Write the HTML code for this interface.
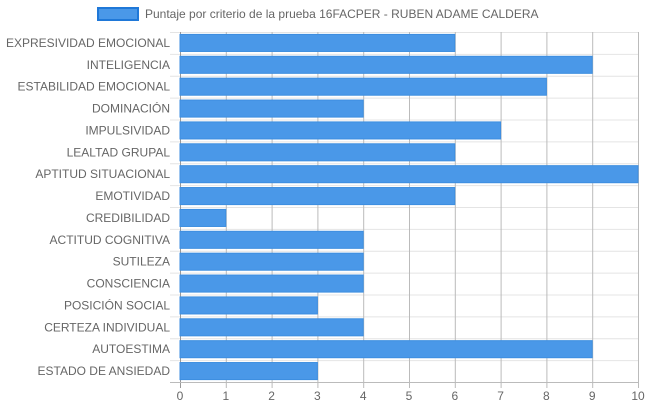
<!DOCTYPE html>
<html><head><meta charset="utf-8"><style>
body{margin:0;background:#fff;}
svg{display:block;font-family:"Liberation Sans",Arial,sans-serif;}
</style></head><body>
<svg id="chart" width="648" height="410"></svg>
<script>
const categories=["EXPRESIVIDAD EMOCIONAL","INTELIGENCIA","ESTABILIDAD EMOCIONAL","DOMINACIÓN","IMPULSIVIDAD","LEALTAD GRUPAL","APTITUD SITUACIONAL","EMOTIVIDAD","CREDIBILIDAD","ACTITUD COGNITIVA","SUTILEZA","CONSCIENCIA","POSICIÓN SOCIAL","CERTEZA INDIVIDUAL","AUTOESTIMA","ESTADO DE ANSIEDAD"];
const values=[6,9,8,4,7,6,10,6,1,4,4,4,3,4,9,3];
const tickLabels=["0","1","2","3","4","5","6","7","8","9","10"];
const seriesName="Puntaje por criterio de la prueba 16FACPER - RUBEN ADAME CALDERA";
const NS="http://www.w3.org/2000/svg";
const svg=document.getElementById('chart');
const L=180,R=638,T=32,B=382,xmax=10;
const x=v=>L+(R-L)*v/xmax;
const band=(B-T)/categories.length;
const y=i=>T+band*i;
function mk(tag,attrs,parent){const e=document.createElementNS(NS,tag);for(const k in attrs)e.setAttribute(k,attrs[k]);(parent||svg).appendChild(e);return e;}
// legend
const lg=mk('g',{});


mk('rect',{x:98,y:8,width:40,height:12,fill:'#4a98e8',stroke:'#1f78d8','stroke-width':2},lg);
const lt=mk('text',{x:145,y:18,'font-size':12,fill:'#666'},lg);lt.textContent=seriesName;
// horizontal grid
for(let i=0;i<=categories.length;i++){
 const l=mk('line',{x1:170,x2:R,y1:y(i)+0.5,y2:y(i)+0.5,stroke:'#e4e4e4'});
 
 
}
// vertical grid + ticks
tickLabels.forEach((t,i)=>{
 const v=+t;
 const l=mk('line',{x1:x(v)+0.5,x2:x(v)+0.5,y1:T,y2:B+6,stroke:i==0?'#999':'#bbb'});
 
 
 const tx=mk('text',{x:x(v),y:400,'font-size':12,fill:'#666','text-anchor':'middle'});
 tx.textContent=t;
 
 
});
mk('line',{x1:170,x2:R,y1:B+0.5,y2:B+0.5,stroke:'#bbb'});
// bars + labels
categories.forEach((c,i)=>{
 const bh=band*0.78;
 const r=mk('rect',{x:x(0),y:y(i)+(band-bh)/2,width:x(values[i])-x(0),height:bh,fill:'#4a98e8',stroke:'#3d8ee0','stroke-width':1});
 
 
 const t=mk('text',{x:170,y:y(i)+band/2+4,'font-size':12,fill:'#666','text-anchor':'end'});
 t.textContent=c;
 
 
});
</script>
</body></html>
